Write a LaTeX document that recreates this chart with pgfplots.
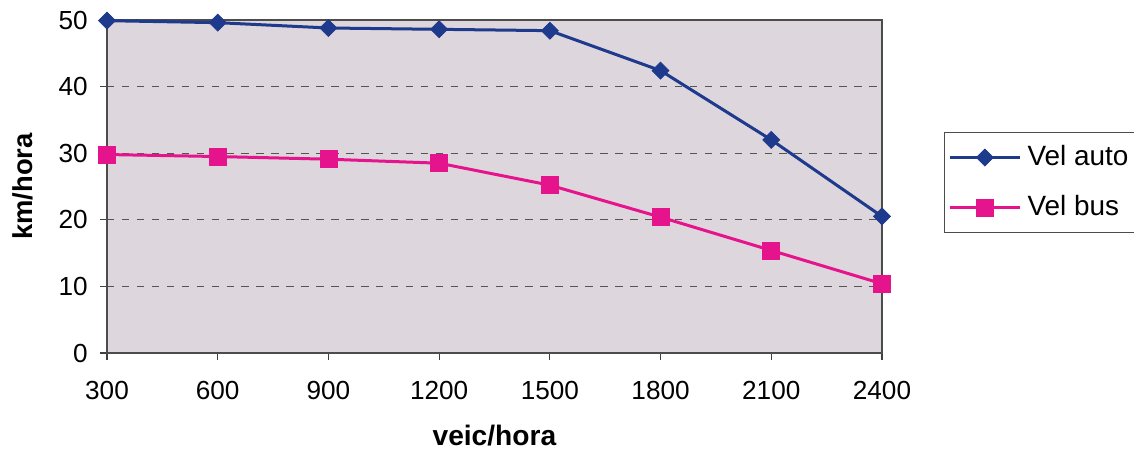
\documentclass[border=0pt]{standalone}
\usepackage{fontspec}
\setmainfont{Liberation Sans}
\usepackage{pgfplots}
\pgfplotsset{compat=1.18}
\definecolor{autoblue}{HTML}{1E3A8C}
\definecolor{busmag}{HTML}{E6148C}
\definecolor{plotbg}{HTML}{DDD6DC}
\definecolor{gridc}{HTML}{555555}
\begin{document}
\begin{tikzpicture}
\useasboundingbox (-42.8bp,-39.2bp) rectangle (410.8bp,141.2bp);
\begin{axis}[
  scale only axis,
  width=310bp, height=133.2bp,
  xmin=300, xmax=2400, ymin=0, ymax=50,
  xtick={300,600,900,1200,1500,1800,2100,2400},
  ytick={0,10,20,30,40,50},
  xtick pos=bottom, ytick pos=left,
  tick align=outside,
  major tick length=2.8bp,
  tick style={black!75, line width=0.5bp},
  axis line style={black!70, line width=0.6bp},
  axis background/.style={fill=plotbg},
  ymajorgrids,
  major grid style={gridc, dashed, line width=0.45bp},
  /pgf/number format/assume math mode=true,
  /pgf/number format/1000 sep={},
  tick label style={font=\fontsize{10.5}{12}\selectfont},
  xticklabel style={yshift=-4.8bp},
  yticklabel style={xshift=-1.4bp},
  xlabel={\textbf{veic/hora}},
  ylabel={\textbf{km/hora}},
  xlabel style={font=\fontsize{11.3}{13}\selectfont, at={(axis description cs:0.5,0)}, anchor=base, yshift=-36.8bp},
  ylabel style={font=\fontsize{11}{13}\selectfont, at={(axis description cs:0,0.5)}, anchor=center, yshift=33.6bp},
  clip=false,
  legend style={at={(1.08,0.6637)}, anchor=north west, draw=black!70,
    fill=white, line width=0.5bp, font=\fontsize{11.2}{13}\selectfont,
    inner xsep=1.5bp, inner ysep=4.2bp, row sep=8.4bp,
    nodes={inner sep=1bp}},
  legend cell align=left,
  legend image code/.code={\draw[mark repeat=2,mark phase=2,#1] plot coordinates {(0bp,0bp)(14bp,0bp)(28bp,0bp)};\path (29.5bp,0bp);},
]
\addplot[autoblue, line width=1.2bp, mark=square*, mark size=2.4bp,
  mark options={rotate=45, fill=autoblue, draw=autoblue, line width=0.3bp}]
  coordinates {(300,49.9)(600,49.6)(900,48.8)(1200,48.6)(1500,48.4)(1800,42.4)(2100,32.0)(2400,20.5)};
\addlegendentry{Vel auto}
\addplot[busmag, line width=1.2bp, mark=square*, mark size=3.4bp,
  mark options={fill=busmag, draw=busmag, line width=0.3bp}]
  coordinates {(300,29.8)(600,29.5)(900,29.1)(1200,28.5)(1500,25.2)(1800,20.4)(2100,15.4)(2400,10.4)};
\addlegendentry{Vel bus}
\end{axis}
\end{tikzpicture}
\end{document}
